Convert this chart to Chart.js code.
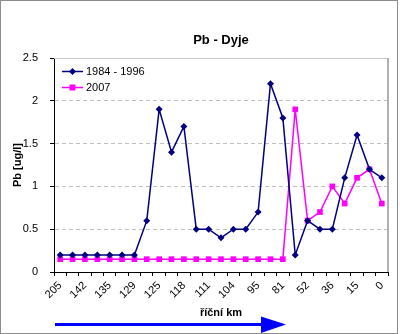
<!DOCTYPE html>
<html>
<head>
<meta charset="utf-8">
<script src="https://cdn.jsdelivr.net/npm/chart.js@4.4.0/dist/chart.umd.min.js"></script>
<style>
  html, body { margin: 0; padding: 0; background: #fff; }
  #chart { display: block; }
</style>
</head>
<body>
<canvas id="chart" width="400" height="334"></canvas>
<script>
// km labels shown under every second category
const kmLabels = ['205', '142', '135', '129', '125', '118', '111', '104', '95', '81', '52', '36', '15', '0'];

// 27 sampling points along the river, only every second one is labelled
const categories = kmLabels.flatMap((km, i) => i < kmLabels.length - 1 ? [km, ''] : [km]);

const seriesOld = [0.2, 0.2, 0.2, 0.2, 0.2, 0.2, 0.2, 0.6, 1.9, 1.4, 1.7, 0.5, 0.5, 0.4,
                   0.5, 0.5, 0.7, 2.2, 1.8, 0.2, 0.6, 0.5, 0.5, 1.1, 1.6, 1.2, 1.1];
const series2007 = [0.15, 0.15, 0.15, 0.15, 0.15, 0.15, 0.15, 0.15, 0.15, 0.15, 0.15, 0.15, 0.15, 0.15,
                    0.15, 0.15, 0.15, 0.15, 0.15, 1.9, 0.6, 0.7, 1.0, 0.8, 1.1, 1.2, 0.8];

const yTicks = [0, 0.5, 1, 1.5, 2, 2.5];

const NAVY = '#000080';
const MAGENTA = '#ff00ff';
const FONT = "'Liberation Sans', Arial, sans-serif";

Chart.defaults.font.family = FONT;
Chart.defaults.color = '#000';

// legend inside the plot, frame lines, outer border and the flow arrow
const extras = {
  id: 'extras',
  beforeDatasetsDraw(chart) {
    const { ctx, chartArea: a } = chart;
    ctx.save();
    ctx.strokeStyle = '#c8c8c8';
    ctx.lineWidth = 1;
    ctx.beginPath();
    ctx.moveTo(a.left, a.top + 0.5);
    ctx.lineTo(a.right, a.top + 0.5);
    ctx.stroke();
    ctx.strokeStyle = '#b0b0b0';
    ctx.lineWidth = 2;
    ctx.beginPath();
    ctx.moveTo(a.right, a.top);
    ctx.lineTo(a.right, a.bottom);
    ctx.stroke();
    ctx.restore();
  },
  afterDraw(chart) {
    const { ctx } = chart;
    ctx.save();

    // legend
    const rows = [
      { label: chart.data.datasets[0].label, color: NAVY, shape: 'diamond', y: 71.5 },
      { label: chart.data.datasets[1].label, color: MAGENTA, shape: 'square', y: 87.5 }
    ];
    rows.forEach(r => {
      ctx.strokeStyle = r.color;
      ctx.fillStyle = r.color;
      ctx.lineWidth = 1.5;
      ctx.beginPath();
      ctx.moveTo(62, r.y);
      ctx.lineTo(83, r.y);
      ctx.stroke();
      ctx.beginPath();
      if (r.shape === 'diamond') {
        ctx.moveTo(72.5, r.y - 3.5);
        ctx.lineTo(76, r.y);
        ctx.lineTo(72.5, r.y + 3.5);
        ctx.lineTo(69, r.y);
        ctx.closePath();
      } else {
        ctx.rect(69.5, r.y - 3, 6, 6);
      }
      ctx.fill();
      ctx.fillStyle = '#000';
      ctx.font = '11px ' + FONT;
      ctx.textBaseline = 'middle';
      ctx.fillText(r.label, 86, r.y);
    });

    // arrow showing the direction of flow
    ctx.strokeStyle = '#0000ff';
    ctx.fillStyle = '#0000ff';
    ctx.lineWidth = 3;
    ctx.beginPath();
    ctx.moveTo(55, 324.5);
    ctx.lineTo(265, 324.5);
    ctx.stroke();
    ctx.beginPath();
    ctx.moveTo(261, 316.5);
    ctx.lineTo(286, 324.5);
    ctx.lineTo(261, 333);
    ctx.closePath();
    ctx.fill();

    // outer border
    ctx.strokeStyle = '#8c8c8c';
    ctx.lineWidth = 1;
    ctx.strokeRect(0.5, 0.5, 397, 333);
    ctx.restore();
  }
};

new Chart(document.getElementById('chart'), {
  type: 'line',
  data: {
    labels: categories,
    datasets: [{
      label: '1984 - 1996',
      data: seriesOld,
      borderColor: NAVY,
      backgroundColor: NAVY,
      borderWidth: 1.5,
      pointStyle: 'rectRot',
      pointRadius: 3.5,
      pointBorderWidth: 0,
      tension: 0
    }, {
      label: '2007',
      data: series2007,
      borderColor: MAGENTA,
      backgroundColor: MAGENTA,
      borderWidth: 1.5,
      pointStyle: 'rect',
      pointRadius: 4,
      pointBorderWidth: 0,
      tension: 0
    }]
  },
  options: {
    responsive: false,
    animation: false,
    devicePixelRatio: 1,
    layout: { padding: { left: 0, right: 12, top: 0, bottom: 12 } },
    plugins: {
      legend: { display: false },
      tooltip: { enabled: false },
      title: {
        display: true,
        text: 'Pb - Dyje',
        fullSize: false,
        color: '#000',
        font: { size: 13, weight: 'bold' },
        padding: { top: 32.5, bottom: 9.9 }
      }
    },
    scales: {
      x: {
        offset: true,
        grid: { offset: true, drawOnChartArea: false, tickLength: 4, tickColor: '#000' },
        border: { color: '#000' },
        ticks: { autoSkip: false, minRotation: 45, maxRotation: 45, padding: 3, font: { size: 11 }, color: '#000' },
        title: {
          display: true,
          text: 'říční km',
          font: { size: 11, weight: 'bold' },
          padding: { top: 0, bottom: 2 }
        },
        afterFit: s => { s.height = 50; }
      },
      y: {
        min: 0,
        max: 2.5,
        afterBuildTicks: s => { s.ticks = yTicks.map(v => ({ value: v })); },
        grid: {
          color: c => (c.tick && (c.tick.value === 0 || c.tick.value === 2.5)) ? 'rgba(0,0,0,0)' : '#c0c0c0',
          tickColor: '#000',
          tickLength: 4
        },
        border: { color: '#000', dash: [4, 3] },
        ticks: { padding: 12, font: { size: 11 }, color: '#000', callback: v => String(v) },
        title: {
          display: true,
          text: 'Pb [ug/l]',
          font: { size: 11, weight: 'bold' },
          padding: { top: 11, bottom: 0 }
        },
        afterFit: s => { s.width = 54; }
      }
    }
  },
  plugins: [extras]
});
</script>
</body>
</html>
